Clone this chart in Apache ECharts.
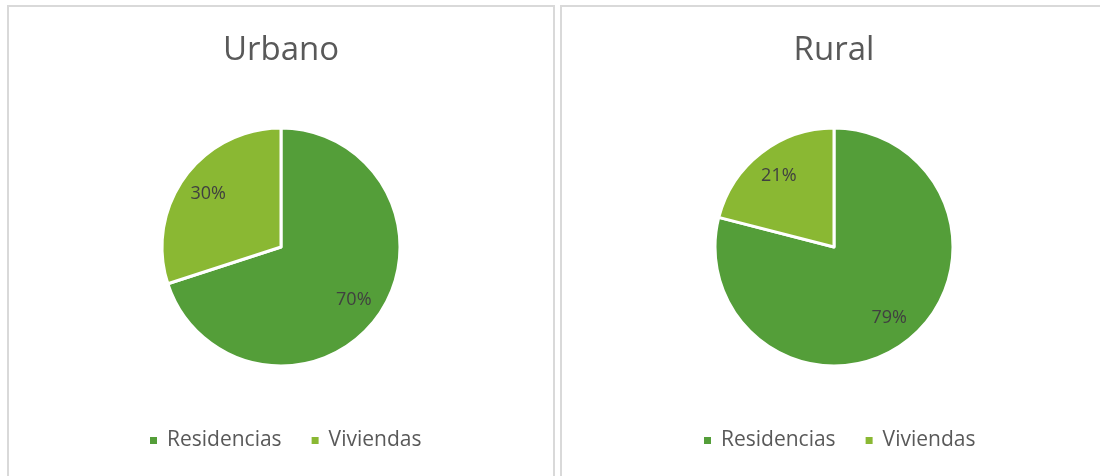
<!DOCTYPE html>
<html>
<head>
<meta charset="utf-8">
<script src="https://cdn.jsdelivr.net/npm/echarts@6/dist/echarts.min.js"></script>
<style>
  html, body { margin: 0; padding: 0; background: #fff; }
  .panel { position: absolute; border: 2px solid #d9d9d9; box-sizing: border-box; }
  #p1 { left: 7px; top: 5px; width: 548px; height: 500px; }
  #p2 { left: 560px; top: 5px; width: 560px; height: 500px; }
  #chart { position: absolute; left: 0; top: 0; width: 1100px; height: 476px; }
</style>
</head>
<body>
<div class="panel" id="p1"></div>
<div class="panel" id="p2"></div>
<div id="chart"></div>
<script>
// datos
const categories = ['Residencias', 'Viviendas'];
const titles = ['Urbano', 'Rural'];
const urbanoValues = [70, 30];
const ruralValues = [79, 21];
const colors = ['#549e39', '#8ab833'];

const centers = [[281, 247], [834, 247]];
const textFont = '"Open Sans", "Noto Sans", sans-serif';

function toData(values) {
  return categories.map((name, i) => ({ name, value: values[i] }));
}

// sectores
function mainPie(values, center) {
  return {
    type: 'pie',
    center,
    radius: 119,
    startAngle: 90,
    clockwise: true,
    silent: true,
    label: { show: false },
    labelLine: { show: false },
    itemStyle: { borderColor: '#fff', borderWidth: 3 },
    data: toData(values)
  };
}

// capa transparente solo para colocar las etiquetas a ~0.73 del radio
function labelPie(values, center) {
  return {
    type: 'pie',
    center,
    radius: [55, 119],
    startAngle: 90,
    clockwise: true,
    silent: true,
    legendHoverLink: false,
    itemStyle: { color: 'rgba(0,0,0,0)', borderWidth: 0 },
    label: {
      show: true,
      position: 'inside',
      formatter: '{c}%',
      color: '#404040',
      fontSize: 18,
      fontFamily: textFont,
      padding: [4, 0, 0, 0]
    },
    labelLine: { show: false },
    data: toData(values)
  };
}

const chart = echarts.init(document.getElementById('chart'));
chart.setOption({
  animation: false,
  color: colors,
  title: titles.map((t, i) => ({
    text: t,
    left: centers[i][0],
    top: 34,
    padding: 0,
    textAlign: 'center',
    textStyle: { color: '#595959', fontSize: 33, fontWeight: 'normal', fontFamily: textFont }
  })),
  legend: [148, 702].map(x => ({
    data: categories,
    left: x,
    top: 430,
    padding: 0,
    icon: 'rect',
    itemWidth: 9,
    itemHeight: 9,
    itemGap: 28,
    selectedMode: false,
    textStyle: { color: '#595959', fontSize: 21, fontFamily: textFont, padding: [0, 0, 0, 4] }
  })),
  series: [
    mainPie(urbanoValues, centers[0]),
    mainPie(ruralValues, centers[1]),
    labelPie(urbanoValues, centers[0]),
    labelPie(ruralValues, centers[1])
  ]
});
</script>
</body>
</html>
